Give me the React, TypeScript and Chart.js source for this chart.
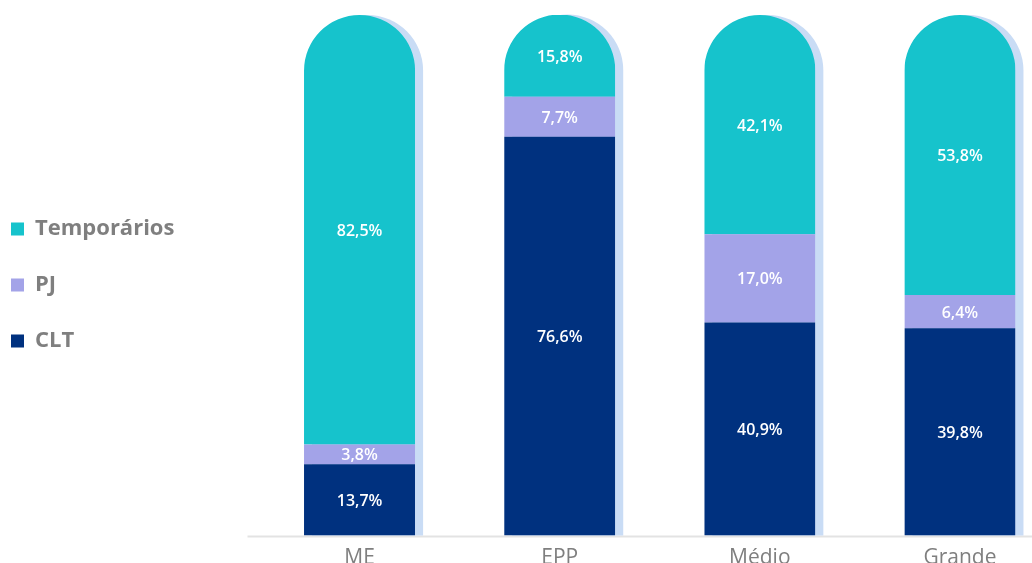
import React, { useEffect, useRef } from "react";
import { Chart, registerables } from "chart.js";

Chart.register(...registerables);

const categories = ["ME", "EPP", "Médio", "Grande"];
const seriesNames = ["CLT", "PJ", "Temporários"];
const cltValues = [13.7, 76.6, 40.9, 39.8];
const pjValues = [3.8, 7.7, 17.0, 6.4];
const tempValues = [82.5, 15.8, 42.1, 53.8];
const seriesColors = ["#00317f", "#a3a3e8", "#16c3cc"];
const shadowColor = "#c9dcf5";

const fmt = (v: number) => v.toFixed(1).replace(".", ",") + "%";

const pillPlugin = {
  id: "pill",
  beforeDatasetsDraw(chart: any) {
    const ctx = chart.ctx;
    const area = chart.chartArea;
    const first = chart.getDatasetMeta(0);
    const last = chart.getDatasetMeta(chart.data.datasets.length - 1);
    ctx.save();
    ctx.strokeStyle = "#e3e3e3";
    ctx.lineWidth = 2;
    ctx.beginPath();
    ctx.moveTo(area.left - 12, area.bottom + 1);
    ctx.lineTo(area.right, area.bottom + 1);
    ctx.stroke();
    ctx.restore();
    ctx.save();
    ctx.fillStyle = shadowColor;
    first.data.forEach((el: any, i: number) => {
      const topEl = last.data[i];
      const w = el.width;
      const r = w / 2;
      const x0 = el.x - w / 2 + 8;
      ctx.beginPath();
      ctx.roundRect(x0, topEl.y, w, el.base - topEl.y, [r, r, 0, 0]);
      ctx.fill();
    });
    ctx.restore();
    ctx.save();
    ctx.beginPath();
    first.data.forEach((el: any, i: number) => {
      const topEl = last.data[i];
      const w = el.width;
      const r = w / 2;
      ctx.roundRect(el.x - w / 2, topEl.y, w, el.base - topEl.y + 2, [r, r, 0, 0]);
    });
    ctx.clip();
  },
  afterDatasetsDraw(chart: any) {
    const ctx = chart.ctx;
    ctx.restore();
    ctx.save();
    ctx.fillStyle = "#ffffff";
    ctx.font = "600 16px 'Open Sans'";
    ctx.textAlign = "center";
    ctx.textBaseline = "middle";
    chart.data.datasets.forEach((ds: any, di: number) => {
      const meta = chart.getDatasetMeta(di);
      meta.data.forEach((el: any, i: number) => {
        const y = (el.y + el.base) / 2 + 1.5;
        ctx.fillText(fmt(ds.data[i]), el.x, y);
      });
    });
    ctx.restore();
  },
};

export default function App() {
  const ref = useRef<HTMLCanvasElement>(null);
  useEffect(() => {
    if (!ref.current) return;
    const chart = new Chart(ref.current, {
      type: "bar",
      data: {
        labels: categories,
        datasets: [
          { label: seriesNames[0], data: cltValues, backgroundColor: seriesColors[0], borderWidth: 0 },
          { label: seriesNames[1], data: pjValues, backgroundColor: seriesColors[1], borderWidth: 0 },
          { label: seriesNames[2], data: tempValues, backgroundColor: seriesColors[2], borderWidth: 0 },
        ],
      },
      options: {
        animation: false,
        responsive: true,
        maintainAspectRatio: false,
        devicePixelRatio: 1,
        layout: { padding: { top: 15, bottom: 0, left: 0, right: 0 } },
        datasets: { bar: { categoryPercentage: 0.555, barPercentage: 1 } },
        plugins: {
          tooltip: { enabled: false },
          legend: {
            position: "left",
            align: "start",
            reverse: true,
            title: {
              display: true,
              text: "",
              font: { size: 10, lineHeight: 1 },
              padding: { top: 0, bottom: 159 },
            },
            labels: {
              boxWidth: 13,
              boxHeight: 13,
              padding: 34,
              color: "#7f7f7f",
              font: { family: "'Open Sans'", size: 22, weight: "bold" },
            },
          },
        },
        scales: {
          x: {
            stacked: true,
            grid: { display: false },
            border: { display: false },
            ticks: {
              color: "#7f7f7f",
              padding: 4,
              font: { family: "'Open Sans'", size: 21, lineHeight: 1 },
            },
            afterFit: (s: any) => {
              s.height = 27.5;
            },
          },
          y: {
            stacked: true,
            min: 0,
            max: 100,
            grid: { display: false },
            border: { display: false },
            ticks: { display: false },
            afterFit: (s: any) => {
              const lw = s.chart.legend ? s.chart.legend.width : 0;
              s.width = Math.max(0, 282.5 - lw);
            },
          },
        },
      },
      plugins: [pillPlugin],
    });
    return () => chart.destroy();
  }, []);
  return (
    <div style={{ position: "fixed", left: 0, top: 0, width: 1032, height: 563, overflow: "hidden", background: "#fff" }}>
      <div style={{ position: "absolute", left: -23, top: 0, width: 1083, height: 563 }}>
        <canvas ref={ref} />
      </div>
    </div>
  );
}
